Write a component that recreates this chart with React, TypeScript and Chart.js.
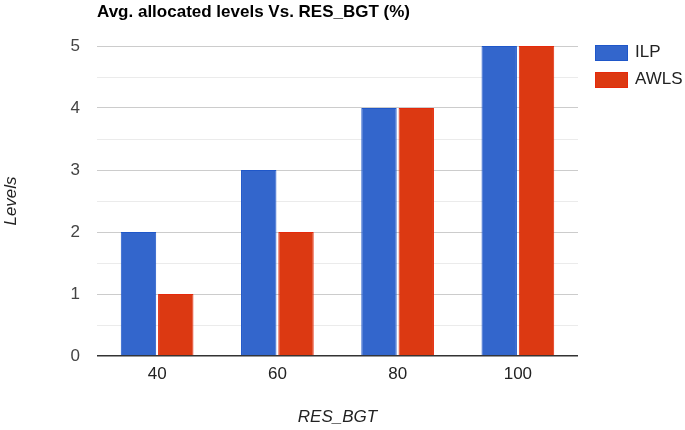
import React, { useEffect, useRef } from "react";
import { Chart, registerables } from "chart.js";

Chart.register(...registerables);

const categories = ["40", "60", "80", "100"];
const ilpValues = [2, 3, 4, 5];
const awlsValues = [1, 2, 4, 5];
const seriesNames = ["ILP", "AWLS"];
const yTicks = [0, 1, 2, 3, 4, 5];
const chartTitle = "Avg. allocated levels Vs. RES_BGT (%)";
const xTitle = "RES_BGT";
const yTitle = "Levels";

const FONT = "'Liberation Sans', Arial, sans-serif";

const overlay = {
  id: "overlay",
  afterDraw(chart: any) {
    const ctx = chart.ctx;
    const a = chart.chartArea;
    ctx.save();
    // title
    ctx.fillStyle = "#000";
    ctx.font = `bold 17px ${FONT}`;
    ctx.textAlign = "left";
    ctx.textBaseline = "middle";
    ctx.fillText(chartTitle, a.left, 12);
    // x title
    ctx.font = `italic 17px ${FONT}`;
    ctx.fillStyle = "#222";
    ctx.textAlign = "center";
    ctx.fillText(xTitle, (a.left + a.right) / 2, 417);
    // y title
    ctx.save();
    ctx.translate(11, (a.top + a.bottom) / 2);
    ctx.rotate(-Math.PI / 2);
    ctx.fillText(yTitle, 0, 0);
    ctx.restore();
    // legend
    chart.data.datasets.forEach((ds: any, i: number) => {
      const y = 45 + i * 27;
      ctx.fillStyle = ds.backgroundColor;
      ctx.fillRect(595, y, 33, 16);
      ctx.strokeStyle = ds.borderColor;
      ctx.lineWidth = 1;
      ctx.strokeRect(595.5, y + 0.5, 32, 15);
      ctx.fillStyle = "#222";
      ctx.font = `17px ${FONT}`;
      ctx.textAlign = "left";
      ctx.fillText(ds.label, 635, y + 7);
    });
    ctx.restore();
  },
};

function App() {
  const ref = useRef<HTMLCanvasElement>(null);
  useEffect(() => {
    document.body.style.margin = "0";
    const chart = new Chart(ref.current!, {
      type: "bar",
      data: {
        labels: categories,
        datasets: [
          {
            label: seriesNames[0],
            data: ilpValues,
            backgroundColor: "#3366cc",
            borderColor: "#1f57c9",
            borderWidth: 1,
            categoryPercentage: 0.62,
            barPercentage: 0.95,
          },
          {
            label: seriesNames[1],
            data: awlsValues,
            backgroundColor: "#dc3912",
            borderColor: "#e6290b",
            borderWidth: 1,
            categoryPercentage: 0.62,
            barPercentage: 0.95,
          },
        ],
      },
      options: {
        animation: false,
        responsive: false,
        layout: { padding: { top: 46, right: 107, left: 0, bottom: 0 } },
        plugins: {
          legend: { display: false },
          title: { display: false },
          tooltip: { enabled: false },
        },
        scales: {
          x: {
            grid: { display: false, drawTicks: false },
            border: { display: false },
            ticks: {
              color: "#222",
              font: { family: FONT, size: 17 },
              padding: 8,
            },
            afterFit: (s: any) => {
              s.height = 74;
            },
          },
          y: {
            min: 0,
            max: 5,
            ticks: {
              stepSize: 0.5,
              color: "#444",
              font: { family: FONT, size: 17 },
              padding: 17,
              callback: (v: any) =>
                yTicks.includes(Number(v)) ? String(v) : "",
            },
            grid: {
              drawTicks: false,
              color: (c: any) =>
                c.tick.value === 0
                  ? "#333"
                  : Number.isInteger(c.tick.value)
                  ? "#cccccc"
                  : "#ebebeb",
              lineWidth: (c: any) => (c.tick.value === 0 ? 1.5 : 1),
            },
            border: { display: false },
            afterFit: (s: any) => {
              s.width = 97;
            },
          },
        },
      },
      plugins: [overlay],
    });
    return () => chart.destroy();
  }, []);
  return (
    <div style={{ position: "absolute", left: 0, top: 0, width: 685, height: 430 }}>
      <canvas ref={ref} width={685} height={430} />
    </div>
  );
}

export default App;
